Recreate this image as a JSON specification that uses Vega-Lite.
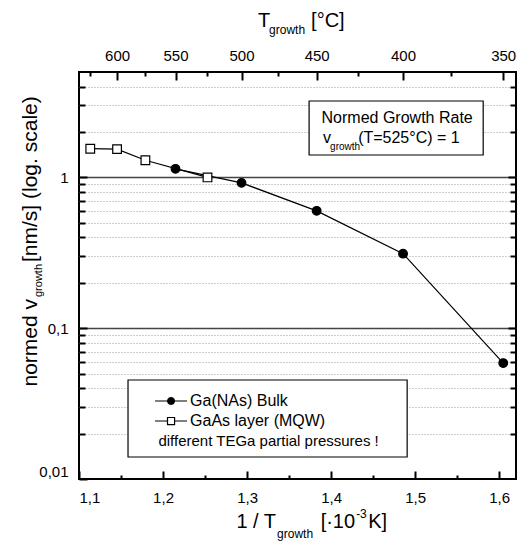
{
  "$schema": "https://vega.github.io/schema/vega-lite/v6.json",
  "width": 437,
  "height": 407,
  "autosize": {"type": "none"},
  "padding": {"left": 79, "top": 72, "right": 1, "bottom": 64},
  "background": "white",
  "datasets": {
    "pts": [
      {"x": 1.1134, "v": 1.55, "series": "GaAs layer (MQW)"},
      {"x": 1.1453, "v": 1.54, "series": "GaAs layer (MQW)"},
      {"x": 1.1790, "v": 1.30, "series": "GaAs layer (MQW)"},
      {"x": 1.2529, "v": 1.00, "series": "GaAs layer (MQW)"},
      {"x": 1.2148, "v": 1.14, "series": "Ga(NAs) Bulk"},
      {"x": 1.2934, "v": 0.92, "series": "Ga(NAs) Bulk"},
      {"x": 1.3828, "v": 0.60, "series": "Ga(NAs) Bulk"},
      {"x": 1.4856, "v": 0.312, "series": "Ga(NAs) Bulk"},
      {"x": 1.6048, "v": 0.0587, "series": "Ga(NAs) Bulk"}
    ]
  },
  "config": {
    "font": "Liberation Sans",
    "view": {"stroke": "black", "strokeWidth": 2},
    "axis": {"labelColor": "black", "tickColor": "black", "labelFont": "Liberation Sans", "labelOverlap": false, "labelBound": false, "domain": true, "domainOpacity": 0, "title": null},
    "text": {"color": "black", "font": "Liberation Sans"}
  },
  "resolve": {"axis": {"x": "independent", "y": "independent"}},
  "layer": [
    {
      "data": {"values": [{}]},
      "mark": {"type": "rect", "fill": "white", "stroke": "black", "strokeWidth": 1.2},
      "encoding": {
        "x": {"datum": 1.37381, "type": "quantitative", "scale": {"type": "linear", "domain": [1.1, 1.62], "nice": false, "zero": false},
          "axis": {"orient": "top", "offset": -8, "values": [1.145278, 1.214845, 1.29341, 1.382839, 1.485553, 1.60475], "labelExpr": "format(1000/datum.value-273.15,'.0f')", "tickSize": 8, "tickWidth": 2, "labelPadding": 9, "labelFontSize": 15, "grid": false}},
        "x2": {"datum": 1.58095},
        "y": {"datum": 3.212, "type": "quantitative", "scale": {"type": "log", "domain": [0.01, 5], "nice": false},
          "axis": {"orient": "right", "tickSize": -8, "values": [0.1, 1], "labels": false, "tickWidth": 2, "grid": false}},
        "y2": {"datum": 1.408}
      }
    },
    {
      "data": {"values": [{}]},
      "mark": {"type": "rect", "fill": "white", "stroke": "black", "strokeWidth": 1.2},
      "encoding": {
        "x": {"datum": 1.15833, "type": "quantitative", "scale": {"type": "linear", "domain": [1.1, 1.62], "nice": false, "zero": false},
          "axis": {"orient": "top", "offset": -4, "values": [1.1134, 1.179037, 1.252897, 1.336631, 1.432357, 1.542853], "labels": false, "tickSize": 4, "tickWidth": 2, "grid": false}},
        "x2": {"datum": 1.49048},
        "y": {"datum": 0.04533, "type": "quantitative", "scale": {"type": "log", "domain": [0.01, 5], "nice": false},
          "axis": {"orient": "right", "offset": -6, "values": [0.02, 0.03, 0.04, 0.05, 0.06, 0.07, 0.08, 0.09, 0.2, 0.3, 0.4, 0.5, 0.6, 0.7, 0.8, 0.9, 2, 3, 4], "labels": false, "tickSize": 6, "tickWidth": 2, "grid": false}},
        "y2": {"datum": 0.01399}
      }
    },
    {
      "data": {"name": "pts"},
      "mark": {"type": "line", "color": "black", "strokeWidth": 1.2},
      "encoding": {
        "x": {"field": "x", "type": "quantitative", "scale": {"type": "linear", "domain": [1.1, 1.62], "nice": false, "zero": false},
          "axis": {"orient": "bottom", "offset": -8, "values": [1.1, 1.2, 1.3, 1.4, 1.5, 1.6], "labelExpr": "replace(format(datum.value,'.1f'),'.',',')", "tickSize": 8, "tickWidth": 2, "labelPadding": 11, "labelFontSize": 15, "grid": false}},
        "y": {"field": "v", "type": "quantitative", "scale": {"type": "log", "domain": [0.01, 5], "nice": false},
          "axis": {"orient": "left", "offset": -8, "values": [0.01, 0.1, 1], "labelExpr": "replace(toString(datum.value),'.',',')", "tickSize": 8, "tickWidth": 2, "labelPadding": 11, "labelFlush": true, "labelFontSize": 15, "grid": false}},
        "detail": {"field": "series", "type": "nominal"},
        "order": {"field": "x", "type": "quantitative"}
      }
    },
    {
      "data": {"name": "pts"},
      "mark": {"type": "point", "filled": true, "size": 75, "stroke": "black", "strokeWidth": 1.2, "opacity": 1},
      "encoding": {
        "x": {"field": "x", "type": "quantitative", "scale": {"type": "linear", "domain": [1.1, 1.62], "nice": false, "zero": false},
          "axis": {"orient": "bottom", "offset": -4, "values": [1.15, 1.25, 1.35, 1.45, 1.55], "labels": false, "tickSize": 4, "tickWidth": 2, "grid": false}},
        "y": {"field": "v", "type": "quantitative", "scale": {"type": "log", "domain": [0.01, 5], "nice": false},
          "axis": {"orient": "left", "offset": -6, "values": [0.02, 0.03, 0.04, 0.05, 0.06, 0.07, 0.08, 0.09, 0.2, 0.3, 0.4, 0.5, 0.6, 0.7, 0.8, 0.9, 2, 3, 4], "labels": false, "tickSize": 6, "tickWidth": 2, "grid": false}},
        "shape": {"field": "series", "type": "nominal",
          "scale": {"domain": ["Ga(NAs) Bulk", "GaAs layer (MQW)"], "range": ["circle", "square"]}, "legend": null},
        "fill": {"field": "series", "type": "nominal",
          "scale": {"domain": ["Ga(NAs) Bulk", "GaAs layer (MQW)"], "range": ["black", "white"]}, "legend": null}
      }
    },
    {"data": {"values": [{}]}, "mark": {"type": "rule", "color": "black", "strokeWidth": 1.2},
      "encoding": {"x": {"datum": 1.19048, "type": "quantitative", "scale": {"type": "linear", "domain": [1.1, 1.62], "nice": false, "zero": false}, "axis": null},
                   "x2": {"datum": 1.22857},
                   "y": {"datum": 0.03291, "type": "quantitative", "scale": {"type": "log", "domain": [0.01, 5], "nice": false}, "axis": null}}},
    {"data": {"values": [{}]}, "mark": {"type": "rule", "color": "black", "strokeWidth": 1.2},
      "encoding": {"x": {"datum": 1.19048, "type": "quantitative", "scale": {"type": "linear", "domain": [1.1, 1.62], "nice": false, "zero": false}, "axis": null},
                   "x2": {"datum": 1.22857},
                   "y": {"datum": 0.02424, "type": "quantitative", "scale": {"type": "log", "domain": [0.01, 5], "nice": false}, "axis": null}}},
    {"data": {"values": [{}]}, "mark": {"type": "point", "shape": "circle", "filled": true, "fill": "black", "stroke": "black", "strokeWidth": 1, "size": 50, "opacity": 1},
      "encoding": {"x": {"datum": 1.20952, "type": "quantitative", "scale": {"type": "linear", "domain": [1.1, 1.62], "nice": false, "zero": false}, "axis": null},
                   "y": {"datum": 0.03291, "type": "quantitative", "scale": {"type": "log", "domain": [0.01, 5], "nice": false}, "axis": null}}},
    {"data": {"values": [{}]}, "mark": {"type": "point", "shape": "square", "filled": true, "fill": "white", "stroke": "black", "strokeWidth": 1.2, "size": 50, "opacity": 1},
      "encoding": {"x": {"datum": 1.20952, "type": "quantitative", "scale": {"type": "linear", "domain": [1.1, 1.62], "nice": false, "zero": false}, "axis": null},
                   "y": {"datum": 0.02424, "type": "quantitative", "scale": {"type": "log", "domain": [0.01, 5], "nice": false}, "axis": null}}},
    {"data": {"values": [{}]}, "mark": {"type": "text", "text": "Ga(NAs) Bulk", "fontSize": 16, "align": "left", "baseline": "middle"},
      "encoding": {"x": {"datum": 1.23214, "type": "quantitative", "scale": {"type": "linear", "domain": [1.1, 1.62], "nice": false, "zero": false}, "axis": null},
                   "y": {"datum": 0.03291, "type": "quantitative", "scale": {"type": "log", "domain": [0.01, 5], "nice": false}, "axis": null}}},
    {"data": {"values": [{}]}, "mark": {"type": "text", "text": "GaAs layer (MQW)", "fontSize": 16, "align": "left", "baseline": "middle"},
      "encoding": {"x": {"datum": 1.23214, "type": "quantitative", "scale": {"type": "linear", "domain": [1.1, 1.62], "nice": false, "zero": false}, "axis": null},
                   "y": {"datum": 0.02424, "type": "quantitative", "scale": {"type": "log", "domain": [0.01, 5], "nice": false}, "axis": null}}},
    {"data": {"values": [{}]}, "mark": {"type": "text", "text": "different TEGa partial pressures !", "fontSize": 15, "align": "center", "baseline": "middle"},
      "encoding": {"x": {"datum": 1.3256, "type": "quantitative", "scale": {"type": "linear", "domain": [1.1, 1.62], "nice": false, "zero": false}, "axis": null},
                   "y": {"datum": 0.01786, "type": "quantitative", "scale": {"type": "log", "domain": [0.01, 5], "nice": false}, "axis": null}}},
    {"data": {"values": [{}]}, "mark": {"type": "text", "text": "T", "fontSize": 20, "align": "left", "baseline": "alphabetic"},
      "encoding": {"x": {"datum": 1.3131, "type": "quantitative", "scale": {"type": "linear", "domain": [1.1, 1.62], "nice": false, "zero": false}, "axis": null},
                   "y": {"datum": 9.94, "type": "quantitative", "scale": {"type": "log", "domain": [0.01, 5], "nice": false},
                     "axis": {"orient": "left", "domain": false, "values": [0.1, 1], "labels": false, "ticks": false, "grid": true, "gridColor": "#444444", "gridWidth": 1.5}}}},
    {"data": {"values": [{}]}, "mark": {"type": "text", "text": "growth", "fontSize": 12, "align": "left", "baseline": "alphabetic"},
      "encoding": {"x": {"datum": 1.32619, "type": "quantitative", "scale": {"type": "linear", "domain": [1.1, 1.62], "nice": false, "zero": false}, "axis": null},
                   "y": {"datum": 8.9, "type": "quantitative", "scale": {"type": "log", "domain": [0.01, 5], "nice": false},
                     "axis": {"orient": "left", "domain": false, "values": [0.02, 0.03, 0.04, 0.05, 0.06, 0.07, 0.08, 0.09, 0.2, 0.3, 0.4, 0.5, 0.6, 0.7, 0.8, 0.9, 2, 3, 4], "labels": false, "ticks": false, "grid": true, "gridColor": "#9a9a9a", "gridDash": [1, 2], "gridWidth": 1}}}},
    {"data": {"values": [{}]}, "mark": {"type": "text", "text": "[°C]", "fontSize": 20, "align": "left", "baseline": "alphabetic"},
      "encoding": {"x": {"datum": 1.37619, "type": "quantitative", "scale": {"type": "linear", "domain": [1.1, 1.62], "nice": false, "zero": false}, "axis": null},
                   "y": {"datum": 9.94, "type": "quantitative", "scale": {"type": "log", "domain": [0.01, 5], "nice": false}, "axis": null}}},
    {"data": {"values": [{}]}, "mark": {"type": "text", "text": "1 / T", "fontSize": 20, "align": "right", "baseline": "alphabetic"},
      "encoding": {"x": {"datum": 1.33452, "type": "quantitative", "scale": {"type": "linear", "domain": [1.1, 1.62], "nice": false, "zero": false}, "axis": null},
                   "y": {"datum": 0.004732, "type": "quantitative", "scale": {"type": "log", "domain": [0.01, 5], "nice": false}, "axis": null}}},
    {"data": {"values": [{}]}, "mark": {"type": "text", "text": "growth", "fontSize": 12, "align": "left", "baseline": "alphabetic"},
      "encoding": {"x": {"datum": 1.33571, "type": "quantitative", "scale": {"type": "linear", "domain": [1.1, 1.62], "nice": false, "zero": false}, "axis": null},
                   "y": {"datum": 0.004061, "type": "quantitative", "scale": {"type": "log", "domain": [0.01, 5], "nice": false}, "axis": null}}},
    {"data": {"values": [{}]}, "mark": {"type": "text", "text": "[·10", "fontSize": 20, "align": "right", "baseline": "alphabetic"},
      "encoding": {"x": {"datum": 1.42857, "type": "quantitative", "scale": {"type": "linear", "domain": [1.1, 1.62], "nice": false, "zero": false}, "axis": null},
                   "y": {"datum": 0.004732, "type": "quantitative", "scale": {"type": "log", "domain": [0.01, 5], "nice": false}, "axis": null}}},
    {"data": {"values": [{}]}, "mark": {"type": "text", "text": "-3", "fontSize": 12, "align": "left", "baseline": "alphabetic"},
      "encoding": {"x": {"datum": 1.42976, "type": "quantitative", "scale": {"type": "linear", "domain": [1.1, 1.62], "nice": false, "zero": false}, "axis": null},
                   "y": {"datum": 0.005512, "type": "quantitative", "scale": {"type": "log", "domain": [0.01, 5], "nice": false}, "axis": null}}},
    {"data": {"values": [{}]}, "mark": {"type": "text", "text": "K]", "fontSize": 20, "align": "left", "baseline": "alphabetic"},
      "encoding": {"x": {"datum": 1.44405, "type": "quantitative", "scale": {"type": "linear", "domain": [1.1, 1.62], "nice": false, "zero": false}, "axis": null},
                   "y": {"datum": 0.004732, "type": "quantitative", "scale": {"type": "log", "domain": [0.01, 5], "nice": false}, "axis": null}}},
    {"data": {"values": [{}]}, "mark": {"type": "text", "text": "normed v", "fontSize": 21, "align": "right", "baseline": "alphabetic", "angle": 270},
      "encoding": {"x": {"datum": 1.05, "type": "quantitative", "scale": {"type": "linear", "domain": [1.1, 1.62], "nice": false, "zero": false}, "axis": null},
                   "y": {"datum": 0.1562, "type": "quantitative", "scale": {"type": "log", "domain": [0.01, 5], "nice": false}, "axis": null}}},
    {"data": {"values": [{}]}, "mark": {"type": "text", "text": "growth", "fontSize": 11, "align": "left", "baseline": "alphabetic", "angle": 270},
      "encoding": {"x": {"datum": 1.05595, "type": "quantitative", "scale": {"type": "linear", "domain": [1.1, 1.62], "nice": false, "zero": false}, "axis": null},
                   "y": {"datum": 0.161, "type": "quantitative", "scale": {"type": "log", "domain": [0.01, 5], "nice": false}, "axis": null}}},
    {"data": {"values": [{}]}, "mark": {"type": "text", "text": "[nm/s] (log. scale)", "fontSize": 21, "align": "left", "baseline": "alphabetic", "angle": 270},
      "encoding": {"x": {"datum": 1.05, "type": "quantitative", "scale": {"type": "linear", "domain": [1.1, 1.62], "nice": false, "zero": false}, "axis": null},
                   "y": {"datum": 0.2748, "type": "quantitative", "scale": {"type": "log", "domain": [0.01, 5], "nice": false}, "axis": null}}},
    {"data": {"values": [{}]}, "mark": {"type": "text", "text": "Normed Growth Rate", "fontSize": 16, "align": "center", "baseline": "alphabetic"},
      "encoding": {"x": {"datum": 1.47857, "type": "quantitative", "scale": {"type": "linear", "domain": [1.1, 1.62], "nice": false, "zero": false}, "axis": null},
                   "y": {"datum": 2.295, "type": "quantitative", "scale": {"type": "log", "domain": [0.01, 5], "nice": false}, "axis": null}}},
    {"data": {"values": [{}]}, "mark": {"type": "text", "text": "v", "fontSize": 16, "align": "left", "baseline": "alphabetic"},
      "encoding": {"x": {"datum": 1.39048, "type": "quantitative", "scale": {"type": "linear", "domain": [1.1, 1.62], "nice": false, "zero": false}, "axis": null},
                   "y": {"datum": 1.691, "type": "quantitative", "scale": {"type": "log", "domain": [0.01, 5], "nice": false}, "axis": null}}},
    {"data": {"values": [{}]}, "mark": {"type": "text", "text": "growth", "fontSize": 10, "align": "left", "baseline": "alphabetic"},
      "encoding": {"x": {"datum": 1.39881, "type": "quantitative", "scale": {"type": "linear", "domain": [1.1, 1.62], "nice": false, "zero": false}, "axis": null},
                   "y": {"datum": 1.519, "type": "quantitative", "scale": {"type": "log", "domain": [0.01, 5], "nice": false}, "axis": null}}},
    {"data": {"values": [{}]}, "mark": {"type": "text", "text": "(T=525°C) = 1", "fontSize": 16, "align": "left", "baseline": "alphabetic"},
      "encoding": {"x": {"datum": 1.43214, "type": "quantitative", "scale": {"type": "linear", "domain": [1.1, 1.62], "nice": false, "zero": false}, "axis": null},
                   "y": {"datum": 1.691, "type": "quantitative", "scale": {"type": "log", "domain": [0.01, 5], "nice": false}, "axis": null}}}
  ]
}
